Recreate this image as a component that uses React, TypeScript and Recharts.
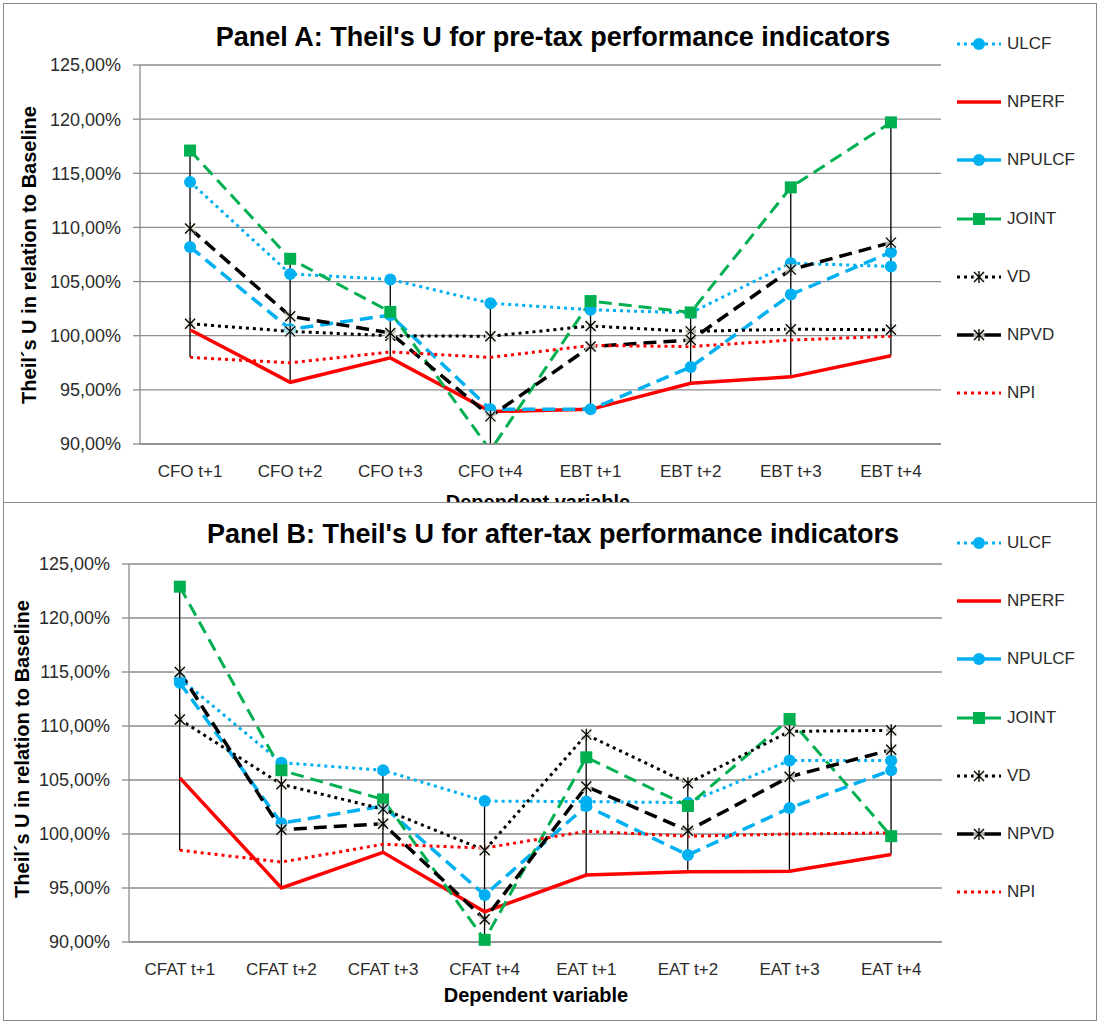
import { Bar, CartesianGrid, ComposedChart, Line, XAxis, YAxis } from "recharts";

// Categories
const catsA = ["CFO t+1", "CFO t+2", "CFO t+3", "CFO t+4", "EBT t+1", "EBT t+2", "EBT t+3", "EBT t+4"];
const catsB = ["CFAT t+1", "CFAT t+2", "CFAT t+3", "CFAT t+4", "EAT t+1", "EAT t+2", "EAT t+3", "EAT t+4"];

// Panel A: pre-tax (Theil's U, % of baseline)
const ulcfA = [114.2, 105.7, 105.2, 103.0, 102.4, 102.1, 106.7, 106.4];
const nperfA = [100.55, 95.7, 97.95, 93.0, 93.2, 95.6, 96.2, 98.15];
const npulcfA = [108.2, 100.6, 101.9, 93.2, 93.2, 97.1, 103.8, 107.7];
const jointA = [117.1, 107.1, 102.2, 89.4, 103.2, 102.15, 113.7, 119.7];
const vdA = [101.1, 100.4, 100.0, 99.95, 100.9, 100.4, 100.6, 100.55];
const npvdA = [109.9, 101.8, 100.25, 92.55, 99.0, 99.6, 106.1, 108.6];
const npiA = [98.0, 97.5, 98.5, 98.0, 99.1, 99.0, 99.6, 99.95];

// Panel B: after-tax
const ulcfB = [114.4, 106.6, 105.9, 103.05, 103.0, 102.9, 106.8, 106.8];
const nperfB = [105.2, 95.0, 98.3, 92.8, 96.2, 96.5, 96.55, 98.1];
const npulcfB = [114.0, 101.0, 102.6, 94.35, 102.6, 98.05, 102.4, 105.9];
const jointB = [122.9, 105.9, 103.2, 90.2, 107.1, 102.6, 110.65, 99.8];
const vdB = [110.6, 104.6, 102.3, 98.5, 109.2, 104.7, 109.5, 109.6];
const npvdB = [115.0, 100.4, 100.95, 92.1, 104.4, 100.3, 105.3, 107.8];
const npiB = [98.5, 97.4, 99.05, 98.7, 100.25, 99.8, 100.0, 100.1];

const yTicks = [90, 95, 100, 105, 110, 115, 120, 125];

const blue = "#00b0f0";
const red = "#ff0000";
const green = "#00b050";
const black = "#000000";
const gridColor = "#8c8c8c";
const textColor = "#2b2b2b";
const font = "'Liberation Sans', Arial, sans-serif";

type MarkerKind = "circle" | "square" | "star" | "none";
type SeriesDef = { key: string; color: string; dash?: string; width: number; marker: MarkerKind; solidLegend?: boolean };

const seriesDefs: SeriesDef[] = [
  { key: "ULCF", color: blue, dash: "3 4", width: 3, marker: "circle" },
  { key: "NPERF", color: red, width: 3.5, marker: "none" },
  { key: "NPULCF", color: blue, dash: "13 7", width: 3.5, marker: "circle", solidLegend: true },
  { key: "JOINT", color: green, dash: "13 7", width: 3, marker: "square", solidLegend: true },
  { key: "VD", color: black, dash: "3 4", width: 3, marker: "star" },
  { key: "NPVD", color: black, dash: "13 7", width: 3.5, marker: "star", solidLegend: true },
  { key: "NPI", color: red, dash: "3 4", width: 3, marker: "none" },
];

const pct = (v: number) => v.toFixed(2).replace(".", ",") + "%";

function Marker({ kind, color, cx, cy }: { kind: MarkerKind; color: string; cx: number; cy: number }) {
  if (kind === "circle") return <circle cx={cx} cy={cy} r={6} fill={color} />;
  if (kind === "square") return <rect x={cx - 6} y={cy - 6} width={12} height={12} fill={color} />;
  if (kind === "star")
    return (
      <g>
        <rect x={cx - 5.5} y={cy - 5.5} width={11} height={11} fill="#eeece1" opacity={0.75} />
        <path
          d={`M${cx - 5},${cy - 5}L${cx + 5},${cy + 5}M${cx - 5},${cy + 5}L${cx + 5},${cy - 5}M${cx},${cy - 6}L${cx},${cy + 6}`}
          stroke="#000"
          strokeWidth={1.3}
          fill="none"
        />
      </g>
    );
  return null;
}

// high-low line spanning all series at a category
const HiLo = (p: any) => {
  const { x, y, width, height } = p;
  if (x == null || y == null) return null;
  const cx = x + width / 2;
  const y1 = Math.min(y, y + height);
  const y2 = Math.max(y, y + height);
  return <line x1={cx} x2={cx} y1={y1} y2={y2} stroke="#000" strokeWidth={1.3} />;
};

function LegendList({ top }: { top: number }) {
  return (
    <div style={{ position: "absolute", left: 952, top: 0 }}>
      {seriesDefs.map((s, i) => (
        <div
          key={s.key}
          style={{
            position: "absolute",
            top: top + i * 58.2 - 10,
            left: 0,
            height: 20,
            display: "flex",
            alignItems: "center",
            whiteSpace: "nowrap",
          }}
        >
          <svg width={46} height={20}>
            <line
              x1={1}
              x2={45}
              y1={10}
              y2={10}
              stroke={s.color}
              strokeWidth={s.width}
              strokeDasharray={s.solidLegend ? undefined : s.dash}
            />
            <Marker kind={s.marker} color={s.color} cx={23} cy={10} />
          </svg>
          <span style={{ marginLeft: 5, fontSize: 17, color: textColor, fontFamily: font }}>{s.key}</span>
        </div>
      ))}
    </div>
  );
}

type PanelProps = {
  title: string;
  cats: string[];
  values: Record<string, number[]>;
  chartHeight: number;
  margin: { top: number; right: number; left: number; bottom: number };
  titleTop: number;
  yLabelAt: [number, number];
  xLabelAt: [number, number];
  legendTop: number;
  clip: boolean;
};

function Panel({ title, cats, values, chartHeight, margin, titleTop, yLabelAt, xLabelAt, legendTop, clip }: PanelProps) {
  const rows = cats.map((c, i) => {
    const row: Record<string, any> = { cat: c };
    const col = seriesDefs.map((s) => values[s.key][i]);
    seriesDefs.forEach((s) => (row[s.key] = values[s.key][i]));
    row.range = [Math.min(...col), Math.max(...col)];
    return row;
  });

  return (
    <>
      <ComposedChart width={1092} height={chartHeight} data={rows} margin={margin}>
        <CartesianGrid vertical={false} stroke={gridColor} strokeWidth={1.3} />
        <XAxis
          dataKey="cat"
          interval={0}
          height={30}
          tickLine={false}
          tickSize={0}
          tickMargin={21}
          axisLine={{ stroke: gridColor, strokeWidth: 1.3 }}
          tick={{ fill: textColor, fontSize: 17, fontFamily: font }}
        />
        <YAxis
          domain={[90, 125]}
          ticks={yTicks}
          allowDataOverflow={clip}
          width={80}
          tickSize={7}
          tickMargin={12}
          tickLine={{ stroke: gridColor, strokeWidth: 1.3 }}
          axisLine={{ stroke: gridColor, strokeWidth: 1.3 }}
          tick={{ fill: textColor, fontSize: 18, fontFamily: font }}
          tickFormatter={pct}
        />
        <Bar dataKey="range" shape={HiLo} isAnimationActive={false} />
        {seriesDefs.map((s) => (
          <Line
            key={s.key}
            type="linear"
            dataKey={s.key}
            stroke={s.color}
            strokeWidth={s.width}
            strokeDasharray={s.dash}
            dot={
              s.marker === "none"
                ? false
                : (p: any) =>
                    p.cx == null ? (
                      <g key={p.index} />
                    ) : (
                      <Marker key={p.index} kind={s.marker} color={s.color} cx={p.cx} cy={p.cy} />
                    )
            }
            activeDot={false}
            isAnimationActive={false}
          />
        ))}
      </ComposedChart>
      <div
        style={{
          position: "absolute",
          left: 49,
          width: 1000,
          top: titleTop,
          textAlign: "center",
          fontSize: 27,
          lineHeight: "27px",
          fontWeight: "bold",
          fontFamily: font,
          color: "#000",
          whiteSpace: "nowrap",
        }}
      >
        {title}
      </div>
      <div
        style={{
          position: "absolute",
          left: yLabelAt[0],
          top: yLabelAt[1],
          transform: "translate(-50%, -50%) rotate(-90deg)",
          fontSize: 20,
          lineHeight: "20px",
          fontWeight: "bold",
          fontFamily: font,
          color: "#000",
          whiteSpace: "nowrap",
        }}
      >
        Theil´s U in relation to Baseline
      </div>
      <div
        style={{
          position: "absolute",
          left: xLabelAt[0] - 150,
          width: 300,
          top: xLabelAt[1],
          textAlign: "center",
          fontSize: 20,
          lineHeight: "20px",
          fontWeight: "bold",
          fontFamily: font,
          color: "#000",
        }}
      >
        Dependent variable
      </div>
      <LegendList top={legendTop} />
    </>
  );
}

export default function App() {
  const valuesA = { ULCF: ulcfA, NPERF: nperfA, NPULCF: npulcfA, JOINT: jointA, VD: vdA, NPVD: npvdA, NPI: npiA };
  const valuesB = { ULCF: ulcfB, NPERF: nperfB, NPULCF: npulcfB, JOINT: jointB, VD: vdB, NPVD: npvdB, NPI: npiB };
  return (
    <div style={{ position: "absolute", left: 0, top: 0, width: 1102, height: 1030, background: "#fff", fontFamily: font }}>
      <div
        style={{
          position: "absolute",
          left: 3,
          top: 3,
          width: 1092,
          height: 499,
          borderTop: "1px solid #8a8a8a",
          borderLeft: "1px solid #8a8a8a",
          borderRight: "1px solid #8a8a8a",
          overflow: "hidden",
          background: "#fff",
        }}
      >
        <Panel
          title="Panel A: Theil's U for pre-tax performance indicators"
          cats={catsA}
          values={valuesA}
          chartHeight={520}
          margin={{ top: 61, right: 155, left: 56, bottom: 50 }}
          titleTop={20}
          yLabelAt={[25, 251]}
          xLabelAt={[534, 488]}
          legendTop={40}
          clip={true}
        />
      </div>
      <div
        style={{
          position: "absolute",
          left: 3,
          top: 502,
          width: 1092,
          height: 517,
          border: "1px solid #8a8a8a",
          overflow: "hidden",
          background: "#fff",
        }}
      >
        <Panel
          title="Panel B: Theil's U for after-tax performance indicators"
          cats={catsB}
          values={valuesB}
          chartHeight={517}
          margin={{ top: 61, right: 154, left: 45, bottom: 48 }}
          titleTop={18}
          yLabelAt={[17.6, 246]}
          xLabelAt={[532, 482]}
          legendTop={40}
          clip={false}
        />
      </div>
    </div>
  );
}
